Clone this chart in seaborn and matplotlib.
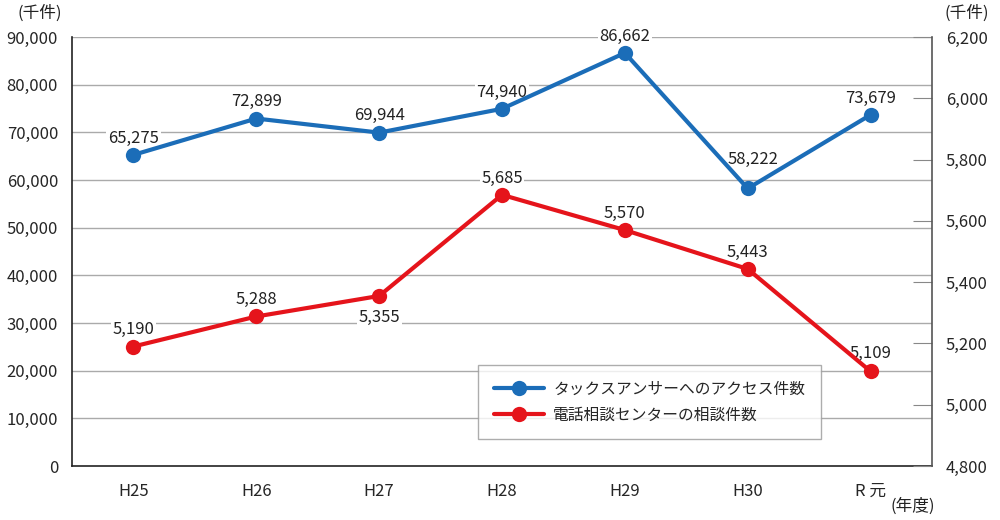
import matplotlib
matplotlib.use("Agg")
import matplotlib.pyplot as plt
import seaborn as sns
import numpy as np
import pandas as pd

categories = ["H25", "H26", "H27", "H28", "H29", "H30", "R 元"]
access = [65275, 72899, 69944, 74940, 86662, 58222, 73679]
phone = [5190, 5288, 5355, 5685, 5570, 5443, 5109]
name_access = "タックスアンサーへのアクセス件数"
name_phone = "電話相談センターの相談件数"
left_ticks = list(range(0, 90001, 10000))
right_ticks = list(range(4800, 6201, 200))

sns.set_theme(style="white")
plt.rcParams['font.family'] = ['Noto Sans CJK JP', 'DejaVu Sans']

blue = "#1B6DB8"
red = "#E5141B"
fs = 12

df = pd.DataFrame({"x": np.arange(len(categories)), "access": access, "phone": phone})

fig = plt.figure(figsize=(10, 5.2), dpi=100)
ax = fig.add_axes([0.072, 0.1038, 0.86, 0.825])
ax2 = ax.twinx()

sns.lineplot(data=df, x="x", y="access", ax=ax, color=blue, lw=3, marker="o",
             markersize=11, markeredgewidth=0, label=name_access, legend=False, zorder=5)
sns.lineplot(data=df, x="x", y="phone", ax=ax2, color=red, lw=3, marker="o",
             markersize=11, markeredgewidth=0, label=name_phone, legend=False, zorder=5)

ax.set_xlim(-0.5, len(categories) - 0.5)
ax.set_ylim(0, 90000)
ax2.set_ylim(4800, 6200)
ax.set_yticks(left_ticks)
ax.set_yticklabels([f"{v:,}" for v in left_ticks], fontsize=fs)
ax2.set_yticks(right_ticks)
ax2.set_yticklabels([f"{v:,}" for v in right_ticks], fontsize=fs)
ax.set_xticks(np.arange(len(categories)))
ax.set_xticklabels(categories, fontsize=fs)
ax.set_xticks(np.arange(0.5, len(categories) - 1, 1), minor=True)
ax.tick_params(axis="x", which="major", length=0, pad=12)
ax.tick_params(axis="x", which="minor", direction="in", length=8, width=0.8, color="#555555")
ax.tick_params(axis="y", length=0, pad=10)
ax2.tick_params(axis="y", direction="in", length=14, width=0.8, color="#888888", pad=10)
ax.set_xlabel("")
ax.set_ylabel("")
ax2.set_ylabel("")

for v in left_ticks[1:]:
    ax.axhline(v, color="#aaaaaa", lw=1, zorder=0)

for s in ["top"]:
    ax.spines[s].set_visible(False)
    ax2.spines[s].set_visible(False)
ax.spines["left"].set_color("#222222")
ax.spines["bottom"].set_color("#222222")
ax.spines["left"].set_linewidth(1.2)
ax.spines["bottom"].set_linewidth(1.2)
ax2.spines["left"].set_visible(False)
ax2.spines["bottom"].set_visible(False)
ax2.spines["right"].set_color("#555555")
ax2.spines["right"].set_linewidth(1.2)
ax.spines["right"].set_visible(False)

box = dict(boxstyle="square,pad=0.1", fc="white", ec="none")
access_off = [(0, 6), (0, 6), (0, 6), (0, 6), (0, 6), (4, 15), (0, 6)]
phone_off = [(0, 6), (0, 6), (0, -9), (0, 6), (0, 6), (0, 6), (0, 7)]
for i, v in enumerate(access):
    dx, dy = access_off[i]
    ax.annotate(f"{v:,}", (i, v), xytext=(dx, dy), textcoords="offset points",
                ha="center", va="bottom", fontsize=fs, color="#222222", bbox=box, zorder=3)
for i, v in enumerate(phone):
    dx, dy = phone_off[i]
    ax2.annotate(f"{v:,}", (i, v), xytext=(dx, dy), textcoords="offset points",
                 ha="center", va="top" if dy < 0 else "bottom", fontsize=fs,
                 color="#222222", bbox=box, zorder=3)

h1, l1 = ax.get_legend_handles_labels()
h2, l2 = ax2.get_legend_handles_labels()
leg = ax2.legend(h1 + h2, l1 + l2, loc="upper left", bbox_to_anchor=(0.472, 0.2354),
                 frameon=True, fancybox=False, edgecolor="#999999", fontsize=11.3,
                 borderpad=1.0, borderaxespad=0, handlelength=3.2, handletextpad=0.6,
                 labelspacing=0.55)
leg.get_frame().set_linewidth(1)
leg.set_zorder(10)

fig.text(0.062, 0.975, "(千件)", ha="right", va="center", fontsize=fs, color="#222222")
fig.text(0.945, 0.975, "(千件)", ha="left", va="center", fontsize=fs, color="#222222")
fig.text(0.935, 0.027, "(年度)", ha="right", va="center", fontsize=fs, color="#222222")

fig.savefig("out.png", dpi=100)
